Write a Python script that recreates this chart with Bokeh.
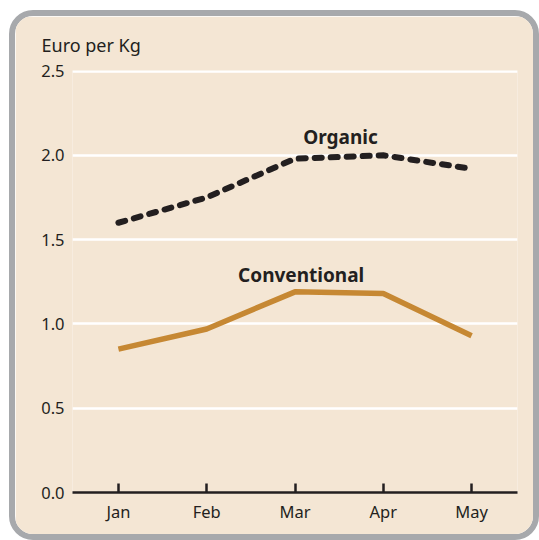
from bokeh.plotting import figure
from bokeh.models import Range1d, FixedTicker, Label, Title, CustomJSTickFormatter
from bokeh.embed import file_html
from bokeh.resources import INLINE

months = ["Jan", "Feb", "Mar", "Apr", "May"]
organic = [1.60, 1.75, 1.98, 2.00, 1.92]
conventional = [0.85, 0.97, 1.19, 1.18, 0.93]
y_ticks = [0.0, 0.5, 1.0, 1.5, 2.0, 2.5]

BG = "#F4E6D4"
INK = "#231F20"
FONT = "Noto Sans"

xs = list(range(len(months)))

p = figure(width=530, height=530, output_backend="svg", toolbar_location=None,
           x_range=Range1d(-0.52, 4.52), y_range=Range1d(0, 2.503),
           min_border_left=57, min_border_right=28, min_border_top=54, min_border_bottom=54,
           background_fill_color=BG, border_fill_color=BG,
           styles={"border": "6px solid #A7A9AC", "border-radius": "24px", "overflow": "hidden",
                   "margin-left": "9px", "margin-top": "10px"})
p.outline_line_color = None

t = Title(text="Euro per Kg", align="left", offset=-31, text_font=FONT,
          text_font_size="18px", text_font_style="normal", text_color=INK, standoff=28)
p.add_layout(t, "above")

p.xgrid.grid_line_color = None
p.ygrid.grid_line_color = "white"
p.ygrid.grid_line_width = 2.5
p.ygrid.ticker = FixedTicker(ticks=y_ticks[1:])

p.yaxis.ticker = FixedTicker(ticks=y_ticks)
p.yaxis.axis_line_color = None
p.yaxis.major_tick_line_color = None
p.yaxis.minor_tick_line_color = None
p.yaxis.major_label_standoff = 2
p.yaxis.major_label_text_font = FONT
p.yaxis.major_label_text_font_size = "16.5px"
p.yaxis.major_label_text_color = INK
p.yaxis.formatter = CustomJSTickFormatter(code="return tick.toFixed(1);")

p.xaxis.ticker = FixedTicker(ticks=xs)
p.xaxis.major_label_overrides = {i: m for i, m in enumerate(months)}
p.xaxis.axis_line_color = INK
p.xaxis.axis_line_width = 2.5
p.xaxis.major_tick_line_color = INK
p.xaxis.major_tick_line_width = 2.5
p.xaxis.major_tick_in = 9
p.xaxis.major_tick_out = 0
p.xaxis.minor_tick_line_color = None
p.xaxis.major_label_standoff = 7
p.xaxis.major_label_text_font = FONT
p.xaxis.major_label_text_font_size = "16.5px"
p.xaxis.major_label_text_color = INK

p.line(xs, conventional, line_color="#C68833", line_width=5.5, line_join="round")
p.line(xs, organic, line_color=INK, line_width=6, line_dash="7 9", line_cap="round",
       line_join="round")

p.add_layout(Label(x=2.515, y=2.11, text="Organic", text_align="center", text_baseline="alphabetic",
                   text_font=FONT, text_font_size="19px", text_font_style="bold", text_color=INK))
p.add_layout(Label(x=2.07, y=1.29, text="Conventional", text_align="center", text_baseline="alphabetic",
                   text_font=FONT, text_font_size="19px", text_font_style="bold", text_color=INK))

open("out.html", "w").write(file_html(p, INLINE))
